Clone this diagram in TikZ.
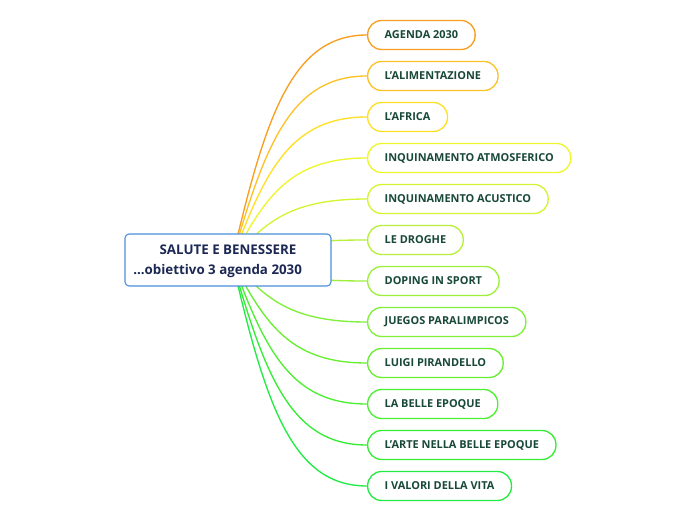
\documentclass[tikz,border=0pt]{standalone}
\usepackage{fontspec}
\setmainfont{Open Sans}
\usetikzlibrary{calc}
\definecolor{c1}{RGB}{248,158,32}
\definecolor{c2}{RGB}{254,194,40}
\definecolor{c3}{RGB}{255,224,36}
\definecolor{c4}{RGB}{238,246,44}
\definecolor{c5}{RGB}{214,244,50}
\definecolor{c6}{RGB}{182,240,58}
\definecolor{c7}{RGB}{156,240,58}
\definecolor{c8}{RGB}{128,240,56}
\definecolor{c9}{RGB}{102,240,48}
\definecolor{c10}{RGB}{76,240,48}
\definecolor{c11}{RGB}{52,238,52}
\definecolor{c12}{RGB}{34,236,68}
\definecolor{txtgreen}{RGB}{24,72,56}
\definecolor{navy}{RGB}{28,40,84}
\definecolor{boxblue}{RGB}{74,144,217}
\tikzset{
  leaf/.style={draw, fill=white, line width=1pt, rounded corners=10.5pt,
    minimum height=21.75pt, inner xsep=12.75pt, inner ysep=0pt, anchor=west,
    text=txtgreen, font=\fontsize{8.2pt}{10pt}\selectfont\bfseries},
  conn/.style={line width=1pt},
  centralbox/.style={draw=boxblue, fill=white, line width=0.8pt, rounded corners=3pt,
    minimum width=154.5pt, minimum height=39pt, inner sep=0pt},
  centraltext/.style={text=navy, inner sep=0pt, font=\fontsize{10pt}{12pt}\selectfont\bfseries}
}
\begin{document}
\begin{tikzpicture}[x=0.75pt,y=-0.75pt]
\useasboundingbox (0,0) rectangle (696,520);
\fill[white] (0,0) rectangle (696,520);
\node[leaf,draw=c1]  (n1)  at (367,35)  {AGENDA 2030};
\node[leaf,draw=c2]  (n2)  at (367,76)  {L'ALIMENTAZIONE};
\node[leaf,draw=c3]  (n3)  at (367,117) {L'AFRICA};
\node[leaf,draw=c4]  (n4)  at (367,158) {INQUINAMENTO ATMOSFERICO};
\node[leaf,draw=c5]  (n5)  at (367,199) {INQUINAMENTO ACUSTICO};
\node[leaf,draw=c6]  (n6)  at (367,240) {LE DROGHE};
\node[leaf,draw=c7]  (n7)  at (367,281) {DOPING IN SPORT};
\node[leaf,draw=c8]  (n8)  at (367,322) {JUEGOS PARALIMPICOS};
\node[leaf,draw=c9]  (n9)  at (367,363) {LUIGI PIRANDELLO};
\node[leaf,draw=c10] (n10) at (367,404) {LA BELLE EPOQUE};
\node[leaf,draw=c11] (n11) at (367,445) {L'ARTE NELLA BELLE EPOQUE};
\node[leaf,draw=c12] (n12) at (367,486) {I VALORI DELLA VITA};
\coordinate (o) at (232,260);
\foreach \i in {1,...,12}{
  \draw[conn,draw=c\i] let \p1=(o), \p2=(n\i.west) in
    (o) .. controls ({\x1+0.25*(\x2-\x1)},{\y1+0.65*(\y2-\y1)}) and ({\x1+0.45*(\x2-\x1)},{\y2}) .. (n\i.west);
}
\node[centralbox] (c) at (228,260) {};
\node[centraltext] (t1) at (228,250) {SALUTE E BENESSERE};
\node[centraltext,anchor=west] (t2) at (133,271) {...obiettivo 3 agenda 2030};
\end{tikzpicture}
\end{document}
